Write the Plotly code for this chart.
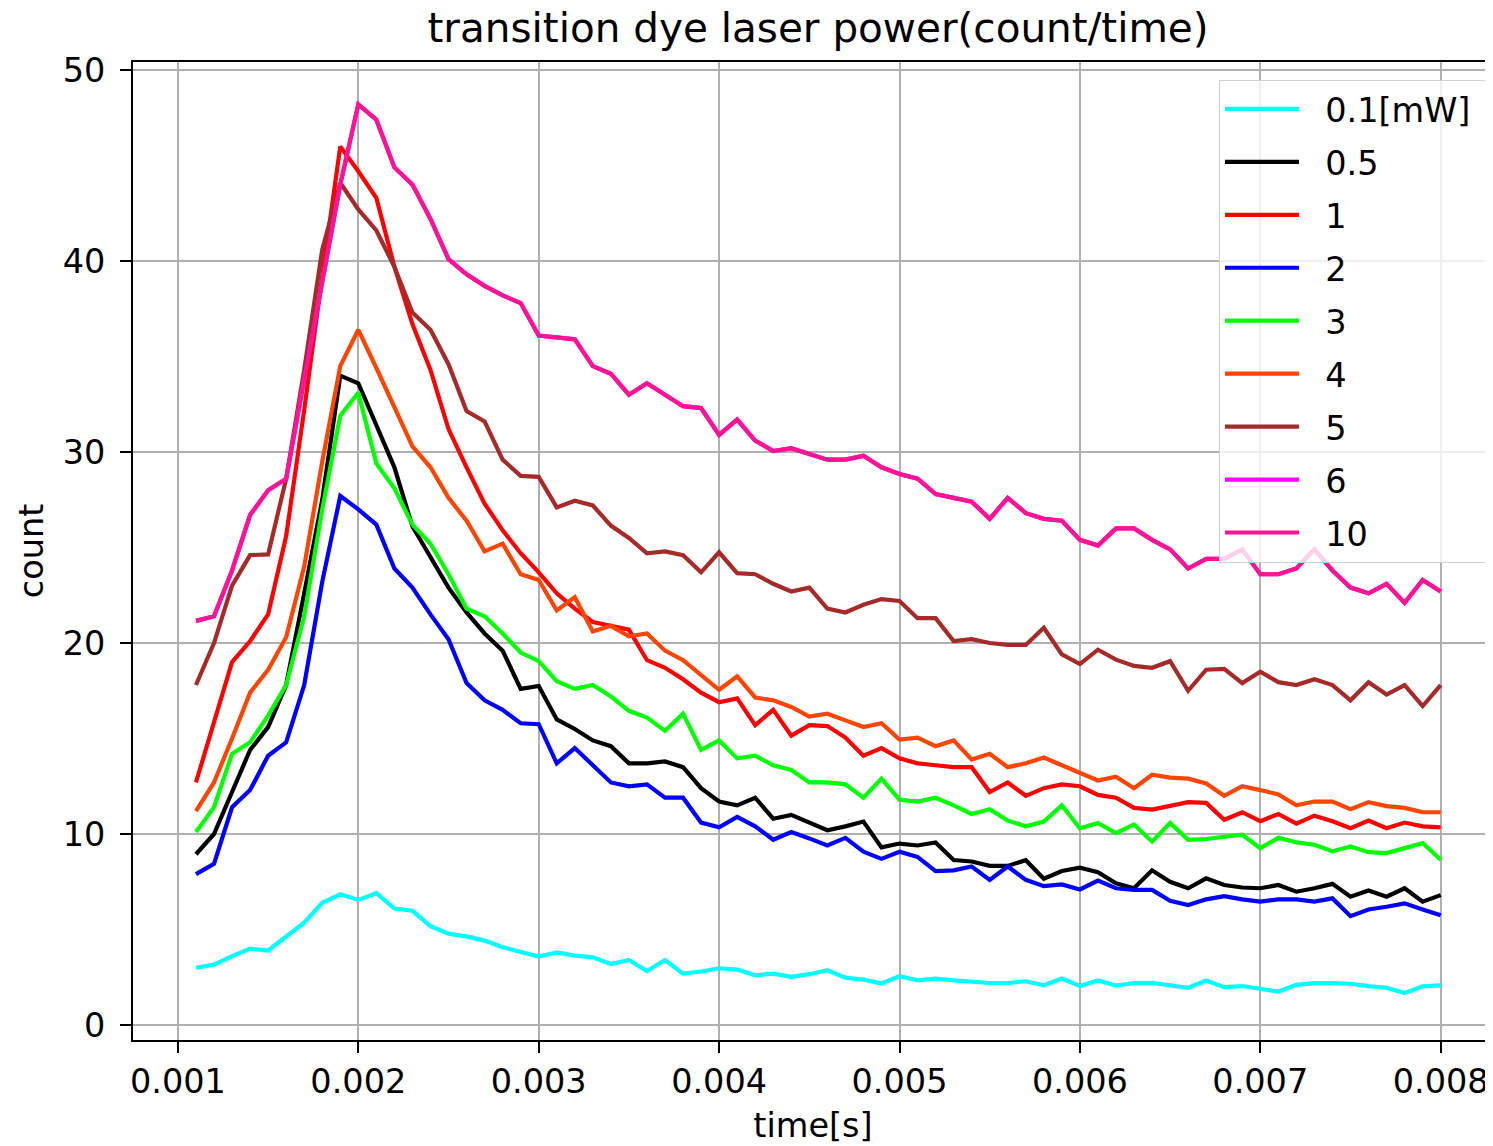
import plotly.graph_objects as go

time_s = [0.0011, 0.0012, 0.0013, 0.0014, 0.0015, 0.0016, 0.0017, 0.0018, 0.0019, 0.0020,
          0.0021, 0.0022, 0.0023, 0.0024, 0.0025, 0.0026, 0.0027, 0.0028, 0.0029, 0.0030,
          0.0031, 0.0032, 0.0033, 0.0034, 0.0035, 0.0036, 0.0037, 0.0038, 0.0039, 0.0040,
          0.0041, 0.0042, 0.0043, 0.0044, 0.0045, 0.0046, 0.0047, 0.0048, 0.0049, 0.0050,
          0.0051, 0.0052, 0.0053, 0.0054, 0.0055, 0.0056, 0.0057, 0.0058, 0.0059, 0.0060,
          0.0061, 0.0062, 0.0063, 0.0064, 0.0065, 0.0066, 0.0067, 0.0068, 0.0069, 0.0070,
          0.0071, 0.0072, 0.0073, 0.0074, 0.0075, 0.0076, 0.0077, 0.0078, 0.0079, 0.0080]

mw_0_1 = [3.0, 3.16, 3.6, 4.0, 3.9, 4.6, 5.36, 6.4, 6.84, 6.55,
          6.9, 6.1, 5.98, 5.17, 4.78, 4.64, 4.42, 4.07, 3.8, 3.58,
          3.8, 3.63, 3.54, 3.19, 3.4, 2.83, 3.4, 2.69, 2.8, 2.97,
          2.9, 2.6, 2.69, 2.52, 2.66, 2.87, 2.48, 2.38, 2.17, 2.55,
          2.34, 2.43, 2.34, 2.25, 2.2, 2.2, 2.29, 2.08, 2.43, 2.04,
          2.33, 2.07, 2.19, 2.21, 2.1, 1.95, 2.33, 1.98, 2.04, 1.89,
          1.75, 2.1, 2.19, 2.19, 2.16, 2.04, 1.95, 1.67, 2.02, 2.07]

mw_0_5 = [8.94, 10.0, 12.2, 14.4, 15.6, 17.8, 22.6, 27.5, 34.0, 33.6,
          31.4, 29.2, 26.1, 24.5, 22.9, 21.6, 20.5, 19.6, 17.6, 17.75,
          16.0, 15.5, 14.9, 14.6, 13.7, 13.7, 13.8, 13.5, 12.4, 11.7,
          11.5, 11.9, 10.8, 11.0, 10.6, 10.2, 10.4, 10.65, 9.3, 9.5,
          9.4, 9.56, 8.64, 8.56, 8.33, 8.33, 8.63, 7.66, 8.06, 8.24,
          8.0, 7.42, 7.16, 8.1, 7.5, 7.16, 7.68, 7.33, 7.2, 7.16,
          7.33, 6.98, 7.16, 7.39, 6.72, 7.04, 6.72, 7.16, 6.46, 6.8]

mw_1 = [12.7, 15.8, 19.0, 20.1, 21.5, 25.6, 32.2, 39.2, 46.0, 44.7,
        43.3, 39.7, 36.7, 34.3, 31.2, 29.2, 27.3, 25.9, 24.7, 23.7,
        22.6, 21.8, 21.1, 20.9, 20.7, 19.1, 18.7, 18.1, 17.4, 16.9,
        17.1, 15.7, 16.5, 15.15, 15.7, 15.65, 15.05, 14.1, 14.5, 13.96,
        13.7, 13.6, 13.5, 13.5, 12.2, 12.7, 12.0, 12.4, 12.6, 12.5,
        12.05, 11.9, 11.37, 11.28, 11.5, 11.67, 11.63, 10.75, 11.14, 10.67,
        11.05, 10.54, 10.96, 10.67, 10.3, 10.7, 10.3, 10.6, 10.4, 10.35]

mw_2 = [7.9, 8.44, 11.4, 12.3, 14.1, 14.8, 17.8, 23.2, 27.7, 27.0,
        26.2, 23.9, 22.9, 21.5, 20.2, 17.9, 17.0, 16.5, 15.8, 15.75,
        13.7, 14.5, 13.6, 12.7, 12.5, 12.6, 11.9, 11.9, 10.6, 10.35,
        10.9, 10.4, 9.7, 10.1, 9.77, 9.4, 9.8, 9.07, 8.7, 9.07,
        8.8, 8.06, 8.1, 8.3, 7.6, 8.3, 7.6, 7.27, 7.36, 7.1,
        7.56, 7.16, 7.07, 7.07, 6.5, 6.28, 6.58, 6.75, 6.58, 6.46,
        6.58, 6.58, 6.46, 6.63, 5.7, 6.05, 6.19, 6.37, 6.05, 5.75]

mw_3 = [10.1, 11.4, 14.2, 14.8, 16.2, 17.8, 21.4, 27.0, 31.9, 33.1,
        29.4, 28.1, 26.2, 25.2, 23.6, 21.8, 21.4, 20.5, 19.5, 19.05,
        18.0, 17.6, 17.8, 17.2, 16.45, 16.1, 15.4, 16.3, 14.4, 14.9,
        13.96, 14.1, 13.6, 13.35, 12.7, 12.7, 12.6, 11.9, 12.9, 11.8,
        11.7, 11.9, 11.5, 11.05, 11.3, 10.7, 10.4, 10.65, 11.5, 10.3,
        10.58, 10.05, 10.5, 9.6, 10.58, 9.7, 9.74, 9.84, 9.96, 9.26,
        9.8, 9.56, 9.44, 9.1, 9.35, 9.05, 9.0, 9.26, 9.53, 8.65]

mw_4 = [11.2, 12.7, 15.0, 17.4, 18.6, 20.3, 24.0, 29.5, 34.5, 36.4,
        34.4, 32.3, 30.3, 29.2, 27.6, 26.4, 24.8, 25.2, 23.6, 23.3,
        21.7, 22.4, 20.6, 20.9, 20.35, 20.5, 19.6, 19.1, 18.3, 17.55,
        18.25, 17.15, 17.0, 16.65, 16.15, 16.3, 15.95, 15.6, 15.8, 14.95,
        15.05, 14.6, 14.9, 13.9, 14.2, 13.5, 13.7, 14.0, 13.6, 13.2,
        12.8, 13.0, 12.4, 13.1, 12.95, 12.9, 12.65, 12.0, 12.5, 12.3,
        12.07, 11.5, 11.7, 11.7, 11.3, 11.67, 11.46, 11.37, 11.14, 11.14]

mw_5 = [17.8, 20.0, 23.0, 24.6, 24.64, 28.6, 34.3, 40.6, 44.1, 42.7,
        41.6, 39.7, 37.3, 36.4, 34.6, 32.15, 31.6, 29.6, 28.75, 28.7,
        27.1, 27.45, 27.2, 26.15, 25.5, 24.7, 24.8, 24.6, 23.7, 24.75,
        23.66, 23.6, 23.1, 22.7, 22.9, 21.8, 21.6, 22.0, 22.3, 22.2,
        21.3, 21.3, 20.1, 20.2, 20.0, 19.9, 19.9, 20.8, 19.4, 18.9,
        19.65, 19.13, 18.8, 18.7, 19.05, 17.5, 18.6, 18.65, 17.9, 18.5,
        17.95, 17.8, 18.1, 17.8, 17.0, 17.95, 17.3, 17.8, 16.7, 17.8]

mw_10 = [21.16, 21.4, 23.8, 26.7, 28.0, 28.6, 33.8, 38.8, 44.0, 48.2,
         47.4, 44.9, 44.0, 42.2, 40.1, 39.3, 38.7, 38.2, 37.8, 36.1,
         36.0, 35.9, 34.5, 34.1, 33.0, 33.6, 33.0, 32.4, 32.3, 30.9,
         31.7, 30.6, 30.05, 30.2, 29.9, 29.6, 29.6, 29.8, 29.2, 28.85,
         28.6, 27.8, 27.6, 27.4, 26.5, 27.6, 26.8, 26.5, 26.4, 25.4,
         25.1, 26.0, 26.0, 25.4, 24.9, 23.9, 24.4, 24.4, 24.9, 23.6,
         23.6, 23.9, 24.9, 23.8, 22.9, 22.6, 23.1, 22.1, 23.3, 22.7]

# the 6 mW trace lies exactly underneath the 10 mW trace in the original
mw_6 = list(mw_10)

series_names = ["0.1[mW]", "0.5", "1", "2", "3", "4", "5", "6", "10"]
series_values = [mw_0_1, mw_0_5, mw_1, mw_2, mw_3, mw_4, mw_5, mw_6, mw_10]
series_colors = ["#00FFFF", "#000000", "#FF0000", "#0000FF", "#00FF00",
                 "#FF4500", "#A52A2A", "#FF00FF", "#FF1493"]

x_ticks = [0.001, 0.002, 0.003, 0.004, 0.005, 0.006, 0.007, 0.008]
x_tick_labels = ["0.001", "0.002", "0.003", "0.004", "0.005", "0.006", "0.007", "0.008"]
y_ticks = [0, 10, 20, 30, 40, 50]

FONT = "DejaVu Sans"
GAP = "\u00a0\u00a0"

fig = go.Figure()
for i, (name, vals, col) in enumerate(zip(series_names, series_values, series_colors)):
    label = GAP + name + ("\u00a0" if i == 0 else "")
    fig.add_trace(go.Scatter(
        x=time_s, y=vals, mode="lines", name=label,
        legendgroup=str(i),
        line=dict(color=col, width=4.2),
    ))

axis_common = dict(
    showline=True, linecolor="#000000", linewidth=2, mirror=True,
    showgrid=True, gridcolor="#b0b0b0", gridwidth=2.4,
    ticks="outside", ticklen=11, tickwidth=2, tickcolor="#000000",
    zeroline=False, automargin=False,
    tickfont=dict(family=FONT, size=33.5, color="#000000"),
)

# the page body adds an 8px offset, so the figure is 8px smaller on each leading side
fig.update_layout(
    width=1485, height=1138,
    margin=dict(l=125, r=0, t=54, b=106),
    paper_bgcolor="white", plot_bgcolor="white",
    title=dict(text="transition dye laser power(count/time)",
               xref="paper", x=0.5037, xanchor="center", y=0.983, yanchor="middle",
               font=dict(family=FONT, size=40.5, color="#000000")),
    xaxis=dict(range=[0.000751, 0.00829], tickvals=x_ticks, ticktext=x_tick_labels,
               title=dict(text="time[s]", standoff=13,
                          font=dict(family=FONT, size=33.5, color="#000000")),
               **axis_common),
    yaxis=dict(range=[-0.785, 50.42], tickvals=y_ticks, ticklabelstandoff=8,
               title=dict(text="count", standoff=9,
                          font=dict(family=FONT, size=33.5, color="#000000")),
               **axis_common),
    legend=dict(x=0.7985, y=0.982, xanchor="left", yanchor="top",
                bgcolor="rgba(255,255,255,0.8)", bordercolor="#d0d0d0", borderwidth=1,
                font=dict(family=FONT, size=33.5, color="#000000"),
                traceorder="grouped", tracegroupgap=6.4, itemwidth=74),
    showlegend=True,
)

fig.write_html("out.html")
